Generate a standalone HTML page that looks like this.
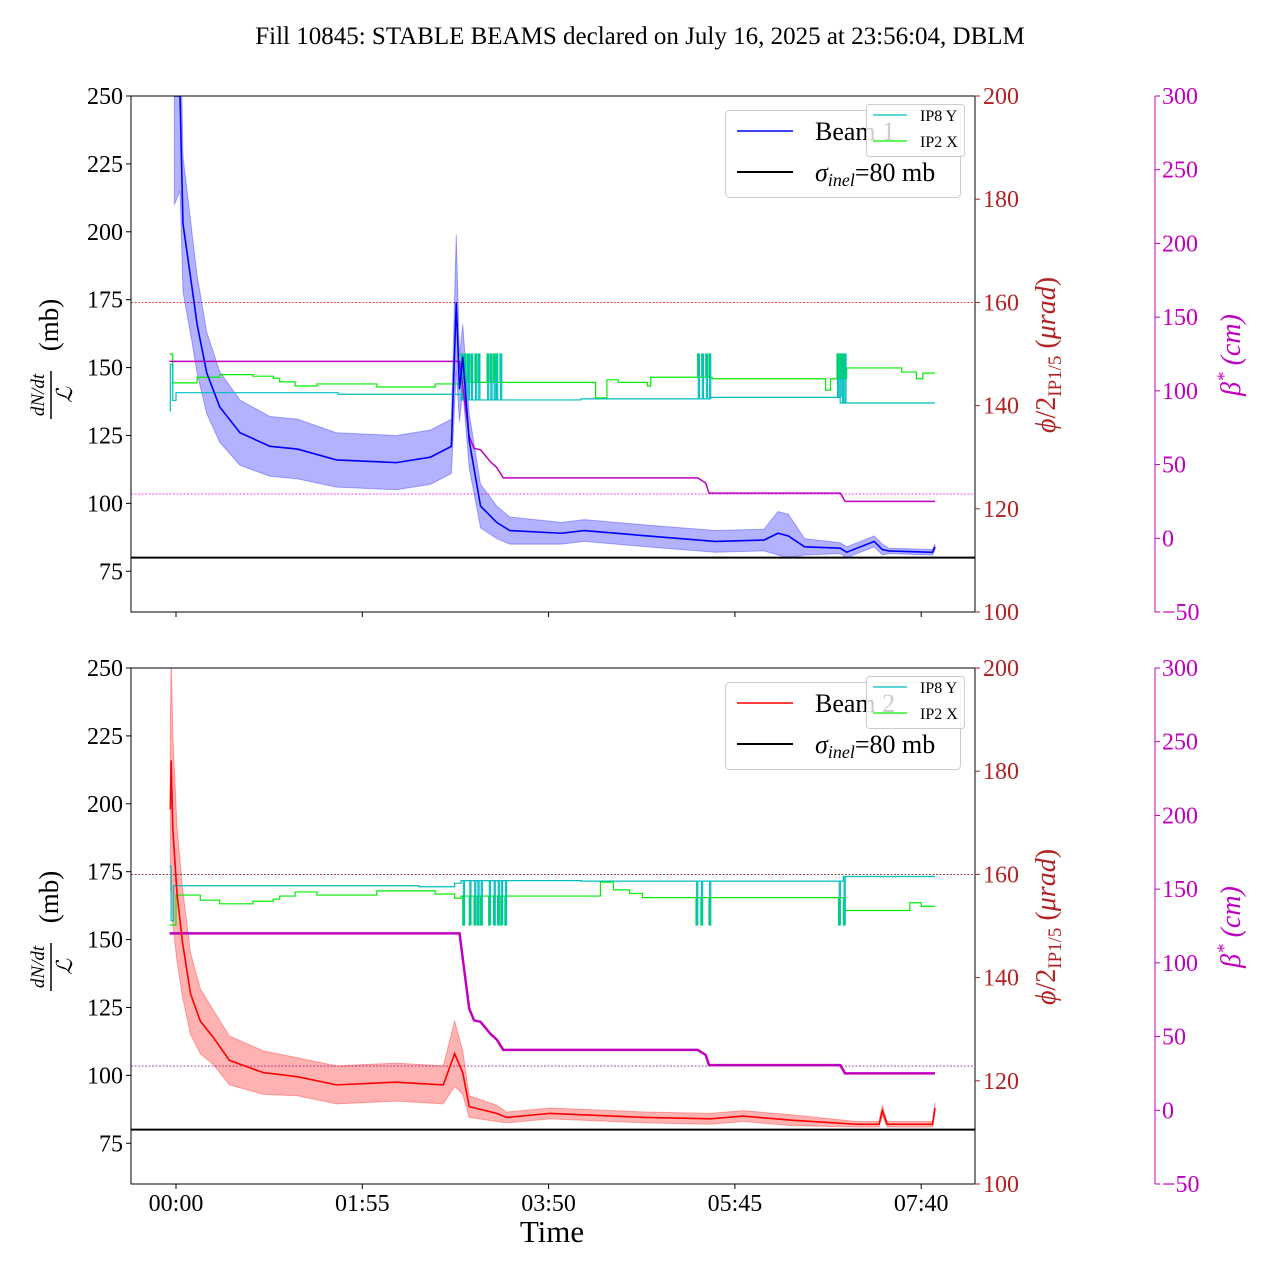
<!DOCTYPE html>
<html><head><meta charset="utf-8">
<style>
html,body{margin:0;padding:0;background:#fff;}
svg{display:block;font-family:"Liberation Serif",serif;}
</style></head>
<body>
<svg id="chart" width="1280" height="1280" viewBox="0 0 1280 1280" xmlns="http://www.w3.org/2000/svg">
<text x="640" y="44" font-size="25" text-anchor="middle">Fill 10845: STABLE BEAMS declared on July 16, 2025 at 23:56:04, DBLM</text>
</svg>
<script>
// ---- data (time in minutes after 00:00) ----
const xTickLabels = ["00:00","01:55","03:50","05:45","07:40"];
const xTickMinutes = [0,115,230,345,460];
const leftTicks = [75,100,125,150,175,200,225,250];
const redTicks = [100,120,140,160,180,200];
const magTicks = [-50,0,50,100,150,200,250,300];

const beam1Time = [-1,2.5,4.3,10,13,19,27,39.5,58,75,99,136,157,170,173,175,177,181,188,198,206,238,252,291,333,363,371.6,378,388,410,414,431,436,440,467,468.5];
const beam1Value = [250,250,203,179,166,148,135.5,126,121,120,116,115,117,121,174,142,154,123,99,93,90,89,90,88,86,86.5,89,88,84,83.5,82,86,83,82.5,82,84];
const beam1Spread = [40,35,25,20,18,15,13,12,11,11,10,10,10,10,25,12,12,10,8,6,5,4,4,4,4,4,8,8,3,2,2,2,2,1,1,1];

const beam2Time = [-3.5,-3,-2,0.6,4,9,15,23,33,54,75,99,136,165,172,177,181,198,204,231,290,330,350,380,420,434,436,439,467,468.5];
const beam2Value = [198,216,191,167,149,130,120,114,105.5,101,99.5,96.5,97.5,96.5,108,101,88.5,86,84.5,86,84.5,84,85,83.5,82,82,87,82,82,88];
const beam2Spread = [30,40,35,25,20,15,12,10,9,8,7,7,7,7,12,8,4,3,2,2,2,2,2,2,1,1,2,1,1,2];

const ip8TopTime = [-4,-3.5,-2,0,100,173,176,250,330,410];
const ip8TopValue = [139,148,141,142.5,142.2,142.2,141.1,141.3,141.6,140.5];
const ip2TopTime = [-4,-2,13,27,47.5,60,64,73.5,87,124,160,176,259,266,273,291,293,322,331,401,404,414,448,457,461];
const ip2TopValue = [150,144.4,145.5,146,145.7,145.3,144.6,143.8,144.2,143.6,144.2,144.5,141.5,145,144.5,143.8,145.5,145.5,145.2,143,145.2,147.3,146.5,145.2,146.3];
const pulseTopTime = [176,178,180,182,184.5,186.5,192,194,196,197.5,200,322,324.5,327,329,408,409.5,411,412.5];
const pulseTopValue = 150;

const ip8BotTime = [-4,-3,-1.5,150,172,176,250,412];
const ip8BotValue = [161.6,151,157.8,157.6,158.3,158.8,158.7,159.6];
const ip2BotTime = [-4,-2,0,15,27,47.5,60,64,73.5,87,124,160,172,176,262,270,280,288,330,413,453,460];
const ip2BotValue = [150.2,150.2,156,155,154.3,154.8,155.2,155.8,156.6,156,156.8,156.2,155.4,155.8,158.5,157,156.3,155.5,155.5,153,154.5,153.8];
const pulseBotTime = [177,181,184,186,188,193,196,198.5,200.5,203,321,324,329,409,412];
const pulseBotValue = 150.2;

const betaTime = [-4,175,181,184,188,194,198,202,322,327,329,410,413,468.5];
const betaValue = [120,120,69,61,60,52,48,41,41,37.5,30.6,30.6,25,25];
const tEnd = 468.5;

// ---- drawing ----
const NS = "http://www.w3.org/2000/svg";
const svg = document.getElementById("chart");
function mk(tag, attrs, parent){ const e=document.createElementNS(NS,tag); for(const k in attrs) e.setAttribute(k,attrs[k]); (parent||svg).appendChild(e); return e; }
const X0=131, X1=975;
const xS = t => 176 + t*1.62;

function panel(off, idx){
  const top=96+off, bot=612+off;
  const yL = v => top + (250-v)*(516/190);
  const yR = v => top + (200-v)*(516/100);
  const yM = v => top + (300-v)*(516/350);
  const g = mk("g",{});
  
  
  const cid = "clip"+idx;
  const cp = mk("clipPath",{id:cid},g); mk("rect",{x:X0,y:top,width:X1-X0,height:bot-top},cp);
  const pg = mk("g",{"clip-path":"url(#"+cid+")"},g);
  
  

  const beamT = idx===1?beam1Time:beam2Time, beamV = idx===1?beam1Value:beam2Value, beamS = idx===1?beam1Spread:beam2Spread;
  const col = idx===1?"#0000ff":"#ff0000", fillc = idx===1?"rgba(0,0,255,0.3)":"rgba(255,0,0,0.3)";
  const l160 = mk("line",{x1:X0,x2:X1,y1:yR(160),y2:yR(160),stroke:idx===1?"#e03030":"#8b3030","stroke-width":0.9,"stroke-dasharray":"2,1.5"},pg);
  
  
  const l30 = mk("line",{x1:X0,x2:X1,y1:yM(30),y2:yM(30),stroke:idx===1?"#ff33ff":"#9933aa","stroke-width":0.9,"stroke-dasharray":"2,1.5"},pg);
  
  
  let up=[], lo=[];
  for(let i=0;i<beamT.length;i++){ up.push(xS(beamT[i])+","+yL(beamV[i]+beamS[i])); lo.unshift(xS(beamT[i])+","+yL(beamV[i]-beamS[i])); }
  const band = mk("polygon",{points:up.concat(lo).join(" "),fill:fillc,stroke:fillc,"stroke-width":1},pg);
  
  
  function stepPath(ts,vs){ let d="M"+xS(ts[0])+","+yR(vs[0]); for(let i=1;i<ts.length;i++){ d+=" L"+xS(ts[i])+","+yR(vs[i-1])+" L"+xS(ts[i])+","+yR(vs[i]); } d+=" L"+xS(tEnd)+","+yR(vs[vs.length-1]); return d; }
  const gT = idx===1?ip2TopTime:ip2BotTime, gV = idx===1?ip2TopValue:ip2BotValue;
  const cT = idx===1?ip8TopTime:ip8BotTime, cV = idx===1?ip8TopValue:ip8BotValue;
  const gp = mk("path",{d:stepPath(gT,gV),fill:"none",stroke:"#00ee00","stroke-width":1.2},pg);
  
  
  const cpth = mk("path",{d:stepPath(cT,cV),fill:"none",stroke:"#00bfbf","stroke-width":1.2},pg);
  
  
  const pT = idx===1?pulseTopTime:pulseBotTime, pV = idx===1?pulseTopValue:pulseBotValue;
  function baseAt(ts,vs,t){ let v=vs[0]; for(let i=0;i<ts.length;i++) if(ts[i]<=t) v=vs[i]; return v; }
  pT.forEach(t=>{
    const pl = mk("path",{d:"M"+(xS(t))+","+yR(baseAt(gT,gV,t))+" L"+xS(t)+","+yR(pV)+" L"+(xS(t)+1.2)+","+yR(pV)+" L"+(xS(t)+1.2)+","+yR(baseAt(gT,gV,t)),fill:"none",stroke:"#00ee00","stroke-width":1.2},pg);
    
    
    const pc = mk("path",{d:"M"+(xS(t)+0.6)+","+yR(baseAt(cT,cV,t))+" L"+(xS(t)+0.6)+","+yR(pV)+" L"+(xS(t)+1.8)+","+yR(pV)+" L"+(xS(t)+1.8)+","+yR(baseAt(cT,cV,t)),fill:"none",stroke:"#00bfbf","stroke-width":1.1},pg);
    
    
  });
  const bp = mk("polyline",{points:betaTime.map((t,i)=>xS(t)+","+yM(betaValue[i])).join(" "),fill:"none",stroke:"#c000c0","stroke-width":idx===1?1.5:2.5},pg);
  
  
  const bl = mk("polyline",{points:beamT.map((t,i)=>xS(t)+","+yL(beamV[i])).join(" "),fill:"none",stroke:col,"stroke-width":1.6},pg);
  
  
  const sl = mk("line",{x1:X0,x2:X1,y1:yL(80),y2:yL(80),stroke:"#000","stroke-width":2},pg);
  
  
  const fr = mk("rect",{x:X0,y:top,width:X1-X0,height:bot-top,fill:"none",stroke:"#000","stroke-width":1},g);
  
  
  leftTicks.forEach(v=>{
    mk("line",{x1:X0-5,x2:X0,y1:yL(v),y2:yL(v),stroke:"#000"},g);
    const tx = mk("text",{x:X0-8,y:yL(v)+8,"font-size":24,"text-anchor":"end"},g);
    tx.textContent = v;
    
    
  });
  redTicks.forEach(v=>{
    mk("line",{x1:X1,x2:X1+5,y1:yR(v),y2:yR(v),stroke:"#b22222"},g);
    const tx = mk("text",{x:X1+8,y:yR(v)+8,"font-size":24,fill:"#b22222"},g);
    tx.textContent = v;
    
    
  });
  const ms = mk("line",{x1:1155,x2:1155,y1:top,y2:bot,stroke:"#c000c0","stroke-width":1},g);
  
  
  magTicks.forEach(v=>{
    mk("line",{x1:1155,x2:1160,y1:yM(v),y2:yM(v),stroke:"#c000c0"},g);
    const tx = mk("text",{x:1162,y:yM(v)+8,"font-size":24,fill:"#c000c0"},g);
    tx.textContent = v<0 ? "\u2212"+Math.abs(v) : v;
    
    
  });
  xTickMinutes.forEach((m,i)=>{
    mk("line",{x1:xS(m),x2:xS(m),y1:bot,y2:bot+5,stroke:"#000"},g);
    if(idx===2){
      const tx = mk("text",{x:xS(m),y:bot+27,"font-size":24,"text-anchor":"middle"},g);
      tx.textContent = xTickLabels[i];
      
      
    }
  });
  const yl = mk("g",{transform:"translate(48,"+(345+off)+") rotate(-90)"},g);
  
  
  const nu = mk("text",{x:-50,y:-4,"font-size":19,"font-style":"italic","text-anchor":"middle"},yl); nu.textContent="dN/dt";
  mk("line",{x1:-74,x2:-26,y1:3,y2:3,stroke:"#000","stroke-width":1.5},yl);
  const de = mk("text",{x:-50,y:24,"font-size":22,"font-style":"italic","text-anchor":"middle"},yl); de.textContent="\u2112";
  const mb = mk("text",{x:20,y:10,"font-size":27,"text-anchor":"middle"},yl); mb.textContent="(mb)";
  const rl = mk("text",{transform:"translate(1055,"+(355+off)+") rotate(-90)","font-size":28,fill:"#b22222","text-anchor":"middle"},g);
  rl.innerHTML = '<tspan font-style="italic">\u03d5</tspan>/2<tspan font-size="19" dy="6">IP1/5</tspan><tspan dy="-6"> (</tspan><tspan font-style="italic">\u03bcrad</tspan>)';
  
  
  const ml = mk("text",{transform:"translate(1240,"+(355+off)+") rotate(-90)","font-size":28,fill:"#c000c0","text-anchor":"middle","font-style":"italic"},g);
  ml.innerHTML = '\u03b2<tspan font-size="19" dy="-10">*</tspan><tspan dy="10"> (cm)</tspan>';
  
  
  const lg = mk("g",{},g);
  
  
  mk("rect",{x:725.5,y:110.5+off,width:235,height:87,rx:4,fill:"rgba(255,255,255,0.8)",stroke:"#cccccc"},lg);
  mk("line",{x1:737,x2:793,y1:131+off,y2:131+off,stroke:col,"stroke-width":1.5},lg);
  const lt1 = mk("text",{x:815,y:140+off,"font-size":26},lg); lt1.textContent = "Beam "+idx;
  
  
  mk("line",{x1:737,x2:793,y1:172+off,y2:172+off,stroke:"#000","stroke-width":2},lg);
  const lt2 = mk("text",{x:815,y:181+off,"font-size":26},lg);
  lt2.innerHTML = '<tspan font-style="italic">\u03c3</tspan><tspan font-style="italic" font-size="18" dy="5">inel</tspan><tspan dy="-5">=80 mb</tspan>';
  
  
  const sg = mk("g",{},g);
  
  
  mk("rect",{x:866.5,y:104.5+off,width:98,height:52,rx:3,fill:"rgba(255,255,255,0.8)",stroke:"#cccccc"},sg);
  mk("line",{x1:873,x2:907,y1:115+off,y2:115+off,stroke:"#00bfbf","stroke-width":1.2},sg);
  const s1 = mk("text",{x:920,y:121+off,"font-size":16},sg); s1.textContent="IP8 Y";
  
  
  mk("line",{x1:873,x2:907,y1:141+off,y2:141+off,stroke:"#00ee00","stroke-width":1.2},sg);
  const s2 = mk("text",{x:920,y:147+off,"font-size":16},sg); s2.textContent="IP2 X";
  
  
}
panel(0,1);
panel(572,2);
const xt = mk("text",{x:552,y:1242,"font-size":31,"text-anchor":"middle"});
xt.textContent = "Time";


</script>
</body></html>
